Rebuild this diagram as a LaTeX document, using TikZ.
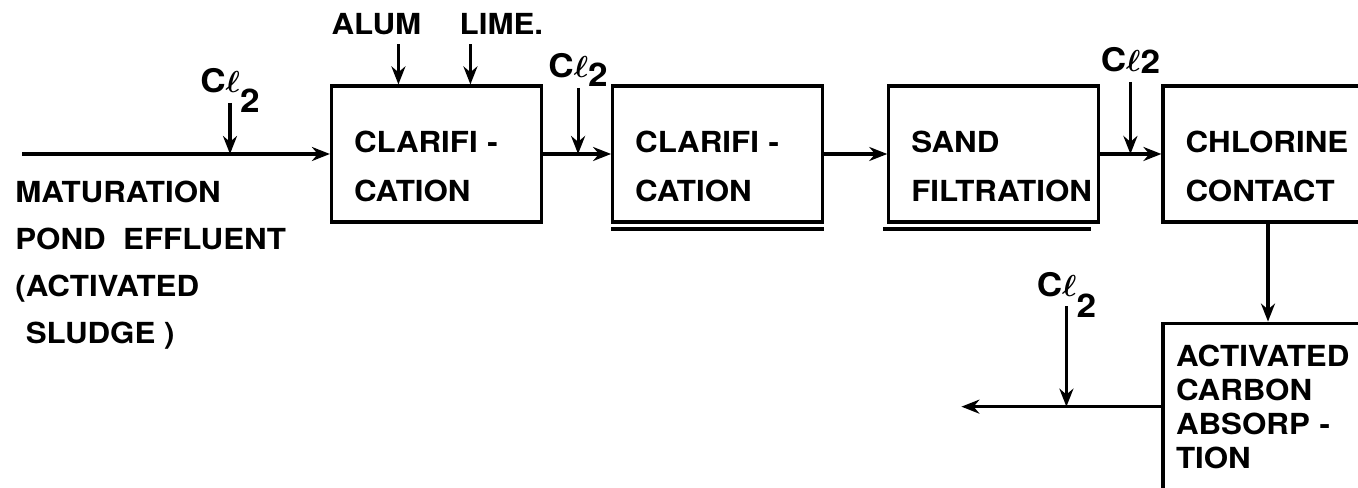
\documentclass[tikz,border=0pt]{standalone}
\usepackage{amsmath}
\usepackage{fontspec}
\setmainfont{TeX Gyre Heros}[FakeStretch=1.08]
\usetikzlibrary{arrows.meta, positioning}

\newcommand{\chlor}[1][4pt]{C$\boldsymbol{\ell}$\raisebox{-#1}{2}}

\begin{document}
\begin{tikzpicture}[
    every node/.style={font=\bfseries\fontsize{16.5}{27.8}\selectfont},
    unit/.style={draw, line width=1.8pt, minimum width=4.2cm, minimum height=2.72cm, inner xsep=0.45cm, text width=3.3cm, align=left,
        execute at begin node={\hyphenpenalty=10000\rule{0pt}{26.5pt}}},
    carbon/.style={draw, line width=1.8pt, minimum width=4.2cm, minimum height=3.34cm, inner xsep=0.26cm, text width=3.68cm, align=left,
        font=\bfseries\fontsize{16.5}{19.3}\selectfont},
    chem/.style={anchor=base, inner sep=1pt, font=\bfseries\fontsize{18.5}{22}\selectfont},
    flow/.style={-{Stealth[length=3.6mm, width=2.8mm]}, line width=1.8pt},
    feed/.style={flow, shorten <=0.2cm},
    underrule/.style={line width=1.8pt}
]
    \useasboundingbox (0,0) rectangle (27.16,9.76);
    \clip (0,0) rectangle (27.16,9.76);

    % treatment units
    \node[unit] (b1) at (8.73,6.68) {CLARIFI -\\CATION};
    \node[unit, right=1.36cm of b1] (b2) {CLARIFI -\\CATION};
    \node[unit, right=1.26cm of b2] (b3) {SAND\\FILTRATION};
    \node[unit, right=1.22cm of b3] (b4) {CHLORINE\\CONTACT};
    \node[carbon, below=1.96cm of b4] (b5) {ACTIVATED\\CARBON\\ABSORP -\\TION};

    % influent
    \coordinate (in) at (0.44,6.68);
    \node[anchor=north west, align=left, inner sep=0pt, font=\bfseries\fontsize{16.5}{26.6}\selectfont] (src) at (0.3,6.14)
        {MATURATION\\POND\ \ EFFLUENT\\(ACTIVATED\\\hphantom{(}SLUDGE )};

    % dosing points
    \coordinate (j1) at (4.6,6.68);
    \coordinate[right=0.7cm of b1.east] (j2);
    \coordinate[right=0.6cm of b3.east] (j3);
    \coordinate[left=1.9cm of b5.west] (j4);
    \coordinate[left=4.0cm of b5.west] (out);
    \coordinate[right=1.37cm of b1.north west] (a1);
    \coordinate[right=2.81cm of b1.north west] (a2);

    \node[above=1.22cm of j1, chem] (cl1) {\chlor[11pt]};
    \node[above=1.52cm of j2, chem] (cl2) {\chlor[5pt]};
    \node[above=1.64cm of j3, chem] (cl3) {\chlor[1pt]};
    \node[above=2.21cm of j4, chem] (cl4) {\chlor[12pt]};
    \node[above=1.0cm of a1, xshift=-0.44cm, chem, font=\bfseries\fontsize{16.5}{20}\selectfont] (alum) {ALUM};
    \node[above=1.0cm of a2, xshift=0.62cm, chem, font=\bfseries\fontsize{16.5}{20}\selectfont] (lime) {LIME.};

    % main line
    \draw[flow] (in) -- (b1);
    \draw[flow] (b1) -- (b2);
    \draw[flow] (b2) -- (b3);
    \draw[flow] (b3) -- (b4);
    \draw[flow] (b4) -- (b5);
    \draw[flow] (b5) -- (out);

    % chemicals
    \draw[feed] (cl1.base) -- (j1);
    \draw[feed] (cl2.base) -- (j2);
    \draw[feed] (cl3.base) -- (j3);
    \draw[feed] (cl4.base) -- (j4);
    \draw[feed] (alum.base -| a1) -- (a1);
    \draw[feed] (lime.base -| a2) -- (a2);

    % second rule under filters
    \draw[underrule] ([yshift=-0.11cm]b2.south west) -- ([yshift=-0.11cm]b2.south east);
    \draw[underrule] ([xshift=-0.08cm, yshift=-0.11cm]b3.south west) -- ([xshift=-0.18cm, yshift=-0.11cm]b3.south east);
\end{tikzpicture}
\end{document}
